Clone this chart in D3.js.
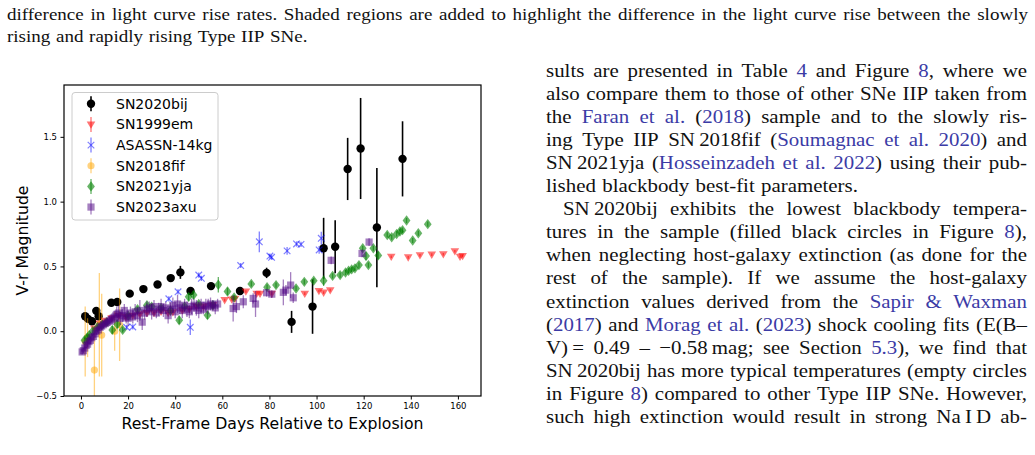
<!DOCTYPE html>
<html>
<head>
<meta charset="utf-8">
<script src="https://cdn.jsdelivr.net/npm/d3@7"></script>
<style>
  body { margin: 0; background: #fff; }
</style>
</head>
<body>
<svg width="1035" height="455"></svg>
<script>
// ---- data: [day, V-r, error] ----
const sn2020bij = [
  [1.8, 0.116, 0.02], [3.0, 0.095, 0.02], [4.7, 0.077, 0.02], [6.5, 0.157, 0.02], [7.5, 0.116, 0.02],
  [12.9, 0.22, 0.02], [15.4, 0.225, 0.02], [20.7, 0.29, 0.015], [26.5, 0.325, 0.015], [32.5, 0.36, 0.015],
  [38.1, 0.41, 0.015], [42.2, 0.454, 0.05], [46.5, 0.31, 0.02], [55.2, 0.348, 0.02], [67.5, 0.31, 0.02],
  [78.8, 0.45, 0.04], [89.4, 0.072, 0.085], [98.3, 0.19, 0.21], [103.0, 0.64, 0.235], [107.9, 0.652, 0.205],
  [113.2, 1.252, 0.24], [118.7, 1.41, 0.39], [125.6, 0.80, 0.46], [136.5, 1.33, 0.29]
];
const sn1999em = [
  [5.7, 0.02, 0.01], [8, 0.06, 0.01], [10, 0.08, 0.01], [13, 0.1, 0.01], [16, 0.12, 0.01], [19, 0.11, 0.01],
  [22, 0.12, 0.01], [25, 0.13, 0.01], [28, 0.14, 0.01], [31, 0.14, 0.01], [34, 0.15, 0.01], [37, 0.14, 0.01],
  [39, 0.147, 0.01], [43, 0.16, 0.01], [46, 0.17, 0.01], [49, 0.19, 0.01], [52, 0.19, 0.01], [56, 0.2, 0.01],
  [61, 0.24, 0.01], [64, 0.245, 0.01], [65.4, 0.25, 0.01], [70, 0.307, 0.01], [74.6, 0.29, 0.01], [76, 0.29, 0.01],
  [81, 0.29, 0.01], [95, 0.29, 0.01], [101, 0.31, 0.01], [103, 0.298, 0.01], [105.8, 0.317, 0.01],
  [131.7, 0.575, 0.01], [138.9, 0.57, 0.01], [143.9, 0.586, 0.01], [148.9, 0.591, 0.01], [153.8, 0.594, 0.01],
  [158.7, 0.617, 0.01], [160.9, 0.575, 0.01], [162.0, 0.58, 0.01]
];
const asassn14kg = [
  [19.4, 0.03, 0.02], [22.0, 0.033, 0.02], [37.3, 0.25, 0.02], [41.2, 0.304, 0.02], [46.4, 0.03, 0.06],
  [50.0, 0.433, 0.02], [51.1, 0.408, 0.02], [67.8, 0.507, 0.02], [75.7, 0.69, 0.08], [80.2, 0.58, 0.02],
  [80.9, 0.57, 0.02], [87.5, 0.62, 0.03], [91.5, 0.673, 0.02], [93.4, 0.67, 0.02], [101.1, 0.627, 0.03],
  [102.0, 0.717, 0.05]
];
const sn2018fif = [
  [1.8, -0.08, 0.27], [2.8, -0.05, 0.15], [5.7, -0.30, 0.3], [7.8, 0.05, 0.40], [8.8, -0.03, 0.32],
  [14.3, 0.0, 0.15], [16.4, 0.05, 0.28]
];
const sn2021yja = [
  [1.5, -0.07, 0.02], [2.7, -0.05, 0.02], [3.5, -0.03, 0.02], [5, 0.0, 0.02], [7, 0.03, 0.02], [9, 0.05, 0.02],
  [11, 0.07, 0.02], [13.3, 0.01, 0.03], [15.4, 0.054, 0.03], [17.7, 0.01, 0.02], [20, 0.12, 0.02], [24, 0.17, 0.02],
  [28, 0.2, 0.02], [30, 0.19, 0.02], [34, 0.18, 0.02], [38, 0.16, 0.02], [41.7, 0.085, 0.03], [44, 0.19, 0.02],
  [45.7, 0.265, 0.03], [47.8, 0.28, 0.03], [50, 0.21, 0.02], [53.7, 0.124, 0.03], [56, 0.2, 0.02],
  [58.3, 0.358, 0.06], [62.2, 0.307, 0.03], [65, 0.26, 0.02], [72.3, 0.365, 0.02], [79, 0.34, 0.02],
  [82.8, 0.356, 0.02], [91.3, 0.33, 0.02], [94.8, 0.381, 0.02], [98.8, 0.39, 0.02], [103, 0.39, 0.04],
  [106.8, 0.427, 0.02], [110, 0.433, 0.02], [112.3, 0.453, 0.02], [113.6, 0.467, 0.02], [114.9, 0.477, 0.02],
  [116.3, 0.485, 0.02], [118, 0.51, 0.02], [119.6, 0.64, 0.02], [121, 0.58, 0.03], [122, 0.51, 0.02],
  [124.1, 0.64, 0.02], [126.2, 0.585, 0.03], [130, 0.743, 0.02], [131.9, 0.725, 0.02], [134, 0.75, 0.02],
  [135.4, 0.77, 0.02], [136.5, 0.78, 0.02], [138.2, 0.854, 0.02], [140.8, 0.70, 0.02], [143.2, 0.756, 0.02],
  [147.2, 0.826, 0.02]
];
const sn2023axu = [
  [0.5, -0.16, 0.02], [1.0, -0.15, 0.02], [1.6, -0.13, 0.02], [2.2, -0.11, 0.02], [2.8, -0.10, 0.02],
  [3.4, -0.08, 0.02], [4.0, -0.07, 0.03], [4.6, -0.05, 0.03], [5.3, -0.04, 0.03], [6.0, -0.02, 0.03],
  [6.7, 0.0, 0.03], [7.4, 0.01, 0.03], [8.1, 0.03, 0.03], [8.8, 0.04, 0.03], [9.6, 0.05, 0.03],
  [10.4, 0.06, 0.03], [11.2, 0.07, 0.03], [12.0, 0.08, 0.04], [12.8, 0.09, 0.04], [13.6, 0.10, 0.05],
  [14.4, 0.11, 0.05], [15.2, 0.13, 0.06], [16.0, 0.14, 0.06], [16.8, 0.10, 0.05], [17.6, 0.12, 0.05],
  [18.4, 0.16, 0.05], [19.2, 0.11, 0.05], [20.0, 0.10, 0.06], [21.0, 0.14, 0.05], [22.0, 0.11, 0.05],
  [23.0, 0.15, 0.06], [24.0, 0.12, 0.05], [25.0, 0.16, 0.08], [26.0, 0.07, 0.06], [27.0, 0.14, 0.05],
  [28.0, 0.17, 0.06], [29.0, 0.18, 0.05], [30.0, 0.15, 0.06], [31.0, 0.19, 0.05], [32.0, 0.14, 0.04],
  [33.0, 0.17, 0.05], [34.0, 0.19, 0.06], [35.0, 0.16, 0.05], [36.0, 0.18, 0.05], [37.0, 0.12, 0.06],
  [38.0, 0.17, 0.05], [39.0, 0.2, 0.06], [40.0, 0.15, 0.05], [41.0, 0.21, 0.07], [42.0, 0.18, 0.05],
  [43.0, 0.16, 0.06], [44.0, 0.2, 0.05], [45.0, 0.17, 0.06], [46.0, 0.15, 0.05], [47.0, 0.19, 0.06],
  [48.0, 0.2, 0.05], [49.0, 0.18, 0.06], [50.0, 0.16, 0.06], [51.0, 0.2, 0.05], [52.0, 0.17, 0.04],
  [53.0, 0.2, 0.05], [54.0, 0.19, 0.06], [55.0, 0.21, 0.05], [56.0, 0.2, 0.04], [57.0, 0.18, 0.05],
  [58.0, 0.21, 0.04], [64.6, 0.175, 0.1], [66.0, 0.19, 0.05], [68.9, 0.227, 0.05], [73.1, 0.253, 0.04],
  [74.1, 0.21, 0.1], [78.8, 0.297, 0.03], [81, 0.286, 0.03], [85.9, 0.30, 0.1], [87, 0.317, 0.04],
  [89, 0.356, 0.1], [90.1, 0.258, 0.04], [106.2, 0.547, 0.03], [119.3, 0.6, 0.03], [122.3, 0.688, 0.03]
];
const seriesNames = ["SN2020bij", "SN1999em", "ASASSN-14kg", "SN2018fif", "SN2021yja", "SN2023axu"];
const xTicks = [0, 20, 40, 60, 80, 100, 120, 140, 160];
const yTicks = [-0.5, 0, 0.5, 1.0, 1.5];

// ---- page text ----
const captionLines = [
  "difference in light curve rise rates. Shaded regions are added to highlight the difference in the light curve rise between the slowly",
  "rising and rapidly rising Type IIP SNe."
];
const bodyLines = [
  ["sults are presented in Table {4} and Figure {8}, where we", true, 0],
  ["also compare them to those of other SNe IIP taken from", true, 0],
  ["the {Faran} {et} {al.} ({2018}) sample and to the slowly ris-", true, 0],
  ["ing Type IIP SN\u20092018fif ({Soumagnac} {et} {al.} {2020}) and", true, 0],
  ["SN\u20092021yja ({Hosseinzadeh} {et} {al.} {2022}) using their pub-", true, 0],
  ["lished blackbody best-fit parameters.", false, 0],
  ["SN\u20092020bij exhibits the lowest blackbody tempera-", true, 17],
  ["tures in the sample (filled black circles in Figure {8}),", true, 0],
  ["when neglecting host-galaxy extinction (as done for the", true, 0],
  ["rest of the sample).  If we assume the host-galaxy", true, 0],
  ["extinction values derived from the {Sapir} {&} {Waxman}", true, 0],
  ["({2017}) and {Morag} {et} {al.} ({2023}) shock cooling fits (E(B\u2013", true, 0],
  ["V)\u2009= 0.49 \u2013 \u22120.58\u2009mag; see Section {5.3}), we find that", true, 0],
  ["SN\u20092020bij has more typical temperatures (empty circles", true, 0],
  ["in Figure {8}) compared to other Type IIP SNe. However,", true, 0],
  ["such high extinction would result in strong Na\u2009I\u2009D ab-", true, 0]
];

const svg = d3.select("svg"),
    width = +svg.attr("width"),
    height = +svg.attr("height");
svg.append("rect").attr("width", width).attr("height", height).attr("fill", "#fff");

const linkColor = "#3b3ba6";
const serif = "'Liberation Serif', 'Times New Roman', serif";

// lay out one justified line, word by word (serif is stretched a bit to get closer to CM widths)
function setLine(str, x0, x1, yb, fontSize, justify, stretch) {
  const words = str.split(" ").filter(w => w.length);
  const g = svg.append("g").attr("font-family", serif).attr("font-size", fontSize);
  const nodes = words.map(w => {
    const t = g.append("text");
    w.split(/(\{[^}]*\})/).filter(s => s).forEach(seg => {
      const blue = seg.startsWith("{");
      t.append("tspan").text(blue ? seg.slice(1, -1) : seg).attr("fill", blue ? linkColor : "#111");
    });
    return t;
  });
  const widths = nodes.map(n => n.node().getComputedTextLength() * stretch);
  const total = d3.sum(widths);
  const gap = justify && words.length > 1 ? (x1 - x0 - total) / (words.length - 1) : fontSize * 0.33;
  let cx = x0;
  nodes.forEach((n, i) => {
    n.attr("transform", `translate(${cx},${yb}) scale(${stretch},1)`);
    cx += widths[i] + gap;
  });
}

captionLines.forEach((l, i) => setLine(l, 7, 1028, 20 + i * 22, 17, i === 0, 1.12));
bodyLines.forEach((l, i) => setLine(l[0], 546 + l[2], 1027, 77 + i * 23.05, 19, l[1], 1.1));

// ---- chart ----
const plot = { left: 64, right: 481, top: 85, bottom: 396 };
const x = d3.scaleLinear().domain([-7.2, 169.8]).range([plot.left, plot.right]);
const y = d3.scaleLinear().domain([-0.5, 1.9]).range([plot.bottom, plot.top]);

svg.append("clipPath").attr("id", "clip").append("rect")
    .attr("x", plot.left).attr("y", plot.top)
    .attr("width", plot.right - plot.left).attr("height", plot.bottom - plot.top);

const markers = {
  circle: "M4.2,0A4.2,4.2,0,1,1,-4.2,0A4.2,4.2,0,1,1,4.2,0Z",
  smallcircle: "M3.6,0A3.6,3.6,0,1,1,-3.6,0A3.6,3.6,0,1,1,3.6,0Z",
  tri: "M-4.3,-3L4.3,-3L0,4.3Z",
  cross: "M-3.3,-3.3L3.3,3.3M-3.3,3.3L3.3,-3.3",
  diamond: "M0,-5.2L3.9,0L0,5.2L-3.9,0Z",
  square: "M-3.6,-3.6H3.6V3.6H-3.6Z"
};

const series = [
  { name: seriesNames[0], data: sn2020bij, color: "#000", alpha: 1, marker: "circle", lw: 1.6 },
  { name: seriesNames[1], data: sn1999em, color: "red", alpha: 0.55, marker: "tri", lw: 1.3 },
  { name: seriesNames[2], data: asassn14kg, color: "blue", alpha: 0.5, marker: "cross", lw: 1.3 },
  { name: seriesNames[3], data: sn2018fif, color: "orange", alpha: 0.5, marker: "smallcircle", lw: 1.3 },
  { name: seriesNames[4], data: sn2021yja, color: "green", alpha: 0.6, marker: "diamond", lw: 1.3 },
  { name: seriesNames[5], data: sn2023axu, color: "indigo", alpha: 0.5, marker: "square", lw: 1.3 }
];

const plotG = svg.append("g").attr("clip-path", "url(#clip)");

function drawSeries(s) {
  const g = plotG.append("g");
  s.data.forEach(d => {
    g.append("line")
        .attr("x1", x(d[0])).attr("x2", x(d[0]))
        .attr("y1", y(d[1] - d[2])).attr("y2", y(d[1] + d[2]))
        .attr("stroke", s.color).attr("stroke-width", s.lw).attr("stroke-opacity", s.alpha);
    const p = g.append("path")
        .attr("transform", `translate(${x(d[0])},${y(d[1])})`)
        .attr("d", markers[s.marker]);
    if (s.marker === "cross") {
      p.attr("fill", "none").attr("stroke", s.color).attr("stroke-width", 1.2).attr("stroke-opacity", s.alpha);
    } else {
      p.attr("fill", s.color).attr("fill-opacity", s.alpha);
    }
  });
}
series.forEach(drawSeries);

// axes
const axisFont = "'DejaVu Sans', sans-serif";
const gx = svg.append("g")
    .attr("transform", `translate(0,${plot.bottom})`)
    .call(d3.axisBottom(x).tickValues(xTicks).tickFormat(d3.format("d")).tickSize(3.5).tickPadding(3.5));
const gy = svg.append("g")
    .attr("transform", `translate(${plot.left},0)`)
    .call(d3.axisLeft(y).tickValues(yTicks).tickFormat(d3.format(".1f")).tickSize(3.5).tickPadding(3.5));
[gx, gy].forEach(g => {
  g.select(".domain").remove();
  g.selectAll(".tick line").attr("stroke", "#000").attr("stroke-width", 1);
  g.selectAll(".tick text").attr("fill", "#000").attr("font-family", axisFont).attr("font-size", 8.5);
});

svg.append("rect")
    .attr("x", plot.left).attr("y", plot.top)
    .attr("width", plot.right - plot.left).attr("height", plot.bottom - plot.top)
    .attr("fill", "none").attr("stroke", "#000").attr("stroke-width", 1.2);

svg.append("text")
    .attr("x", (plot.left + plot.right) / 2).attr("y", 423)
    .attr("text-anchor", "middle").attr("dominant-baseline", "central")
    .attr("font-family", axisFont).attr("font-size", 15.7)
    .text("Rest-Frame Days Relative to Explosion");

svg.append("text")
    .attr("transform", `translate(22.5,${(plot.top + plot.bottom) / 2}) rotate(-90)`)
    .attr("text-anchor", "middle").attr("dominant-baseline", "central")
    .attr("font-family", axisFont).attr("font-size", 15.7)
    .text("V-r Magnitude");

// legend
const leg = svg.append("g");
leg.append("rect")
    .attr("x", 72).attr("y", 92.5).attr("width", 146).attr("height", 127.5).attr("rx", 3)
    .attr("fill", "#fff").attr("fill-opacity", 0.8).attr("stroke", "#ccc").attr("stroke-width", 1);
series.forEach((s, i) => {
  const ly = 103.8 + i * 20.65;
  leg.append("line")
      .attr("x1", 91).attr("x2", 91).attr("y1", ly - 7.5).attr("y2", ly + 7.5)
      .attr("stroke", s.color).attr("stroke-width", s.lw).attr("stroke-opacity", s.alpha);
  const p = leg.append("path").attr("transform", `translate(91,${ly})`).attr("d", markers[s.marker]);
  if (s.marker === "cross") {
    p.attr("fill", "none").attr("stroke", s.color).attr("stroke-width", 1.2).attr("stroke-opacity", s.alpha);
  } else {
    p.attr("fill", s.color).attr("fill-opacity", s.alpha);
  }
  leg.append("text")
      .attr("x", 116).attr("y", ly).attr("dominant-baseline", "central")
      .attr("font-family", axisFont).attr("font-size", 14)
      .text(s.name);
});
</script>
</body>
</html>
